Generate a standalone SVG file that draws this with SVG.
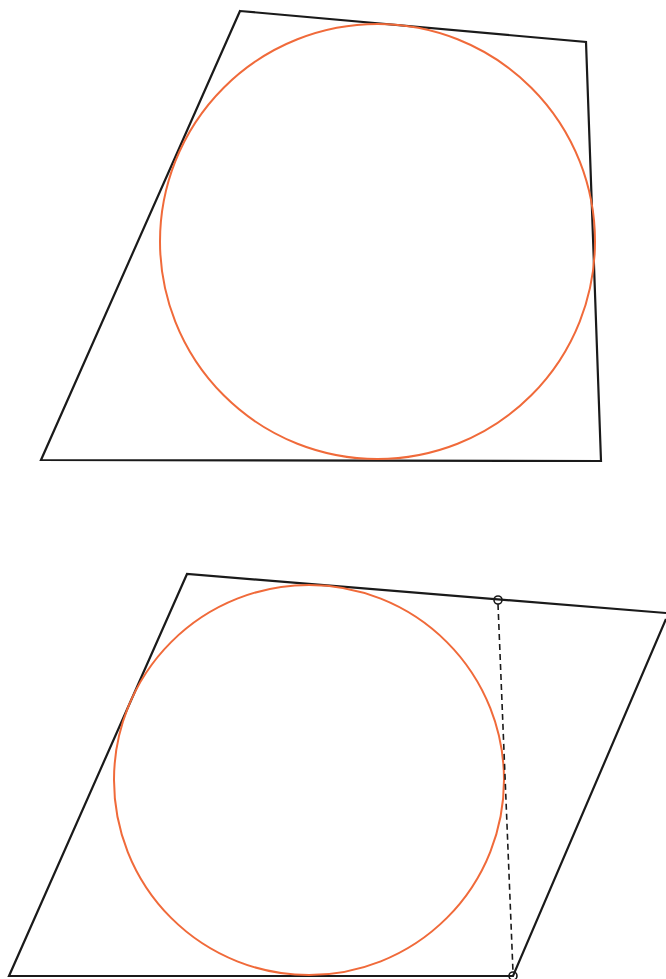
<svg xmlns="http://www.w3.org/2000/svg" width="666" height="979" viewBox="0 0 666 979">
<style>
.edge{fill:none;stroke:#1a1a1a;stroke-width:2.2;stroke-linejoin:miter}
.circ{fill:none;stroke:#f06a3a;stroke-width:2}
.pt{fill:none;stroke:#1a1a1a;stroke-width:1.6}
.dash{fill:none;stroke:#1a1a1a;stroke-width:1.6;stroke-dasharray:6,4}
</style>
<rect width="666" height="979" fill="#fff"/>
<g id="figure1">
<polygon class="edge" points="240,11 586,42 601,461 41,460"/>
<circle class="circ" cx="377.5" cy="241.5" r="217.5"/>
</g>
<g id="figure2">
<polyline class="edge" points="666,613 187,574 9,976 513,976 666,619"/>
<circle class="circ" cx="309" cy="780" r="195"/>
</g>
<g id="connectors">
<line class="dash" x1="498" y1="604" x2="513" y2="972"/>
<circle class="pt" cx="498" cy="600" r="4"/>
<circle class="pt" cx="513" cy="976" r="4"/>
</g>
</svg>
